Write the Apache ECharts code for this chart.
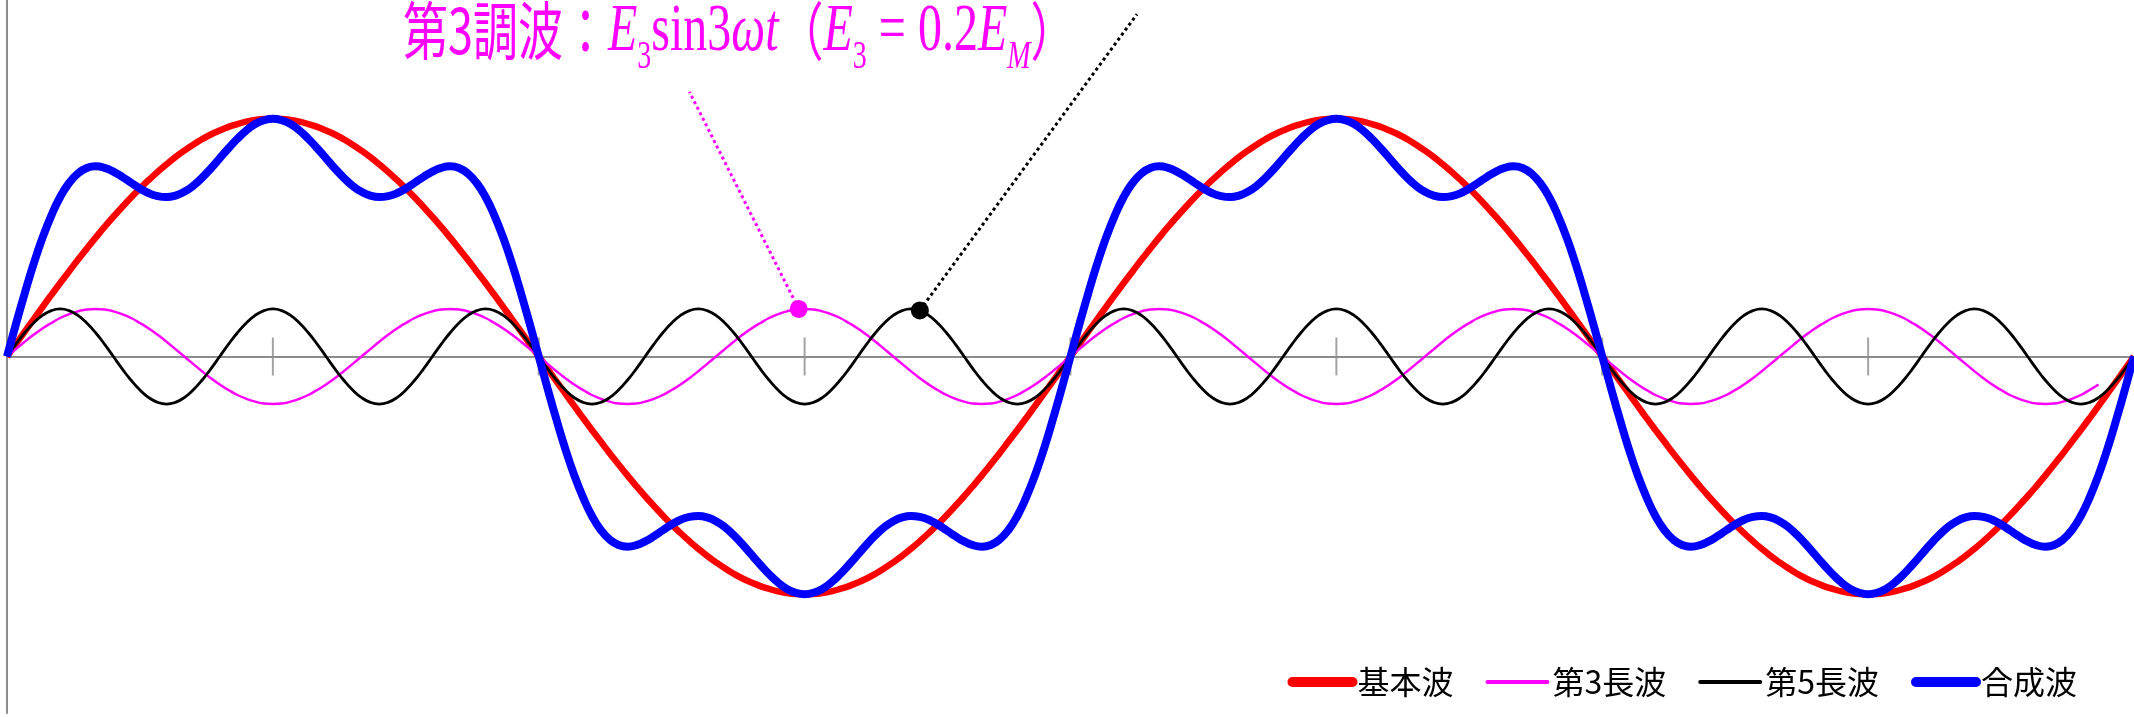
<!DOCTYPE html>
<html>
<head>
<meta charset="utf-8">
<title>合成波</title>
<script src="https://cdn.jsdelivr.net/npm/echarts@6/dist/echarts.min.js"></script>
<style>
  html, body { margin: 0; padding: 0; background: #ffffff; }
  #chart { width: 2134px; height: 717px; }
</style>
</head>
<body>
<div id="chart"></div>
<script>
// Phase angle (degrees) of each sample: 0°, 3°, 6°, ... 720°
const stepDeg = 3;

// 基本波 (amplitude 1)
const fundamental = [
  0, 0.052, 0.105, 0.156, 0.208, 0.259, 0.309, 0.358, 0.407, 0.454,
  0.5, 0.545, 0.588, 0.629, 0.669, 0.707, 0.743, 0.777, 0.809, 0.839,
  0.866, 0.891, 0.914, 0.934, 0.951, 0.966, 0.978, 0.988, 0.995, 0.999,
  1, 0.999, 0.995, 0.988, 0.978, 0.966, 0.951, 0.934, 0.914, 0.891,
  0.866, 0.839, 0.809, 0.777, 0.743, 0.707, 0.669, 0.629, 0.588, 0.545,
  0.5, 0.454, 0.407, 0.358, 0.309, 0.259, 0.208, 0.156, 0.105, 0.052,
  0, -0.052, -0.105, -0.156, -0.208, -0.259, -0.309, -0.358, -0.407, -0.454,
  -0.5, -0.545, -0.588, -0.629, -0.669, -0.707, -0.743, -0.777, -0.809, -0.839,
  -0.866, -0.891, -0.914, -0.934, -0.951, -0.966, -0.978, -0.988, -0.995, -0.999,
  -1, -0.999, -0.995, -0.988, -0.978, -0.966, -0.951, -0.934, -0.914, -0.891,
  -0.866, -0.839, -0.809, -0.777, -0.743, -0.707, -0.669, -0.629, -0.588, -0.545,
  -0.5, -0.454, -0.407, -0.358, -0.309, -0.259, -0.208, -0.156, -0.105, -0.052,
  0, 0.052, 0.105, 0.156, 0.208, 0.259, 0.309, 0.358, 0.407, 0.454,
  0.5, 0.545, 0.588, 0.629, 0.669, 0.707, 0.743, 0.777, 0.809, 0.839,
  0.866, 0.891, 0.914, 0.934, 0.951, 0.966, 0.978, 0.988, 0.995, 0.999,
  1, 0.999, 0.995, 0.988, 0.978, 0.966, 0.951, 0.934, 0.914, 0.891,
  0.866, 0.839, 0.809, 0.777, 0.743, 0.707, 0.669, 0.629, 0.588, 0.545,
  0.5, 0.454, 0.407, 0.358, 0.309, 0.259, 0.208, 0.156, 0.105, 0.052,
  0, -0.052, -0.105, -0.156, -0.208, -0.259, -0.309, -0.358, -0.407, -0.454,
  -0.5, -0.545, -0.588, -0.629, -0.669, -0.707, -0.743, -0.777, -0.809, -0.839,
  -0.866, -0.891, -0.914, -0.934, -0.951, -0.966, -0.978, -0.988, -0.995, -0.999,
  -1, -0.999, -0.995, -0.988, -0.978, -0.966, -0.951, -0.934, -0.914, -0.891,
  -0.866, -0.839, -0.809, -0.777, -0.743, -0.707, -0.669, -0.629, -0.588, -0.545,
  -0.5, -0.454, -0.407, -0.358, -0.309, -0.259, -0.208, -0.156, -0.105, -0.052,
  0
];

// 第3長波 (amplitude 0.2), drawn up to 708°
const third = [
  0, 0.031, 0.062, 0.091, 0.118, 0.141, 0.162, 0.178, 0.19, 0.198, 0.2, 0.198, 0.19, 0.178, 0.162, 0.141, 0.118, 0.091, 0.062, 0.031,
  0, -0.031, -0.062, -0.091, -0.118, -0.141, -0.162, -0.178, -0.19, -0.198, -0.2, -0.198, -0.19, -0.178, -0.162, -0.141, -0.118, -0.091, -0.062, -0.031,
  0, 0.031, 0.062, 0.091, 0.118, 0.141, 0.162, 0.178, 0.19, 0.198, 0.2, 0.198, 0.19, 0.178, 0.162, 0.141, 0.118, 0.091, 0.062, 0.031,
  0, -0.031, -0.062, -0.091, -0.118, -0.141, -0.162, -0.178, -0.19, -0.198, -0.2, -0.198, -0.19, -0.178, -0.162, -0.141, -0.118, -0.091, -0.062, -0.031,
  0, 0.031, 0.062, 0.091, 0.118, 0.141, 0.162, 0.178, 0.19, 0.198, 0.2, 0.198, 0.19, 0.178, 0.162, 0.141, 0.118, 0.091, 0.062, 0.031,
  0, -0.031, -0.062, -0.091, -0.118, -0.141, -0.162, -0.178, -0.19, -0.198, -0.2, -0.198, -0.19, -0.178, -0.162, -0.141, -0.118, -0.091, -0.062, -0.031,
  0, 0.031, 0.062, 0.091, 0.118, 0.141, 0.162, 0.178, 0.19, 0.198, 0.2, 0.198, 0.19, 0.178, 0.162, 0.141, 0.118, 0.091, 0.062, 0.031,
  0, -0.031, -0.062, -0.091, -0.118, -0.141, -0.162, -0.178, -0.19, -0.198, -0.2, -0.198, -0.19, -0.178, -0.162, -0.141, -0.118, -0.091, -0.062, -0.031,
  0, 0.031, 0.062, 0.091, 0.118, 0.141, 0.162, 0.178, 0.19, 0.198, 0.2, 0.198, 0.19, 0.178, 0.162, 0.141, 0.118, 0.091, 0.062, 0.031,
  0, -0.031, -0.062, -0.091, -0.118, -0.141, -0.162, -0.178, -0.19, -0.198, -0.2, -0.198, -0.19, -0.178, -0.162, -0.141, -0.118, -0.091, -0.062, -0.031,
  0, 0.031, 0.062, 0.091, 0.118, 0.141, 0.162, 0.178, 0.19, 0.198, 0.2, 0.198, 0.19, 0.178, 0.162, 0.141, 0.118, 0.091, 0.062, 0.031,
  0, -0.031, -0.062, -0.091, -0.118, -0.141, -0.162, -0.178, -0.19, -0.198, -0.2, -0.198, -0.19, -0.178, -0.162, -0.141, -0.118
];

// 第5長波 (amplitude 0.2)
const fifth = [
  0, 0.052, 0.1, 0.141, 0.173, 0.193, 0.2, 0.193, 0.173, 0.141, 0.1, 0.052, 0, -0.052, -0.1, -0.141, -0.173, -0.193, -0.2, -0.193, -0.173, -0.141, -0.1, -0.052,
  0, 0.052, 0.1, 0.141, 0.173, 0.193, 0.2, 0.193, 0.173, 0.141, 0.1, 0.052, 0, -0.052, -0.1, -0.141, -0.173, -0.193, -0.2, -0.193, -0.173, -0.141, -0.1, -0.052,
  0, 0.052, 0.1, 0.141, 0.173, 0.193, 0.2, 0.193, 0.173, 0.141, 0.1, 0.052, 0, -0.052, -0.1, -0.141, -0.173, -0.193, -0.2, -0.193, -0.173, -0.141, -0.1, -0.052,
  0, 0.052, 0.1, 0.141, 0.173, 0.193, 0.2, 0.193, 0.173, 0.141, 0.1, 0.052, 0, -0.052, -0.1, -0.141, -0.173, -0.193, -0.2, -0.193, -0.173, -0.141, -0.1, -0.052,
  0, 0.052, 0.1, 0.141, 0.173, 0.193, 0.2, 0.193, 0.173, 0.141, 0.1, 0.052, 0, -0.052, -0.1, -0.141, -0.173, -0.193, -0.2, -0.193, -0.173, -0.141, -0.1, -0.052,
  0, 0.052, 0.1, 0.141, 0.173, 0.193, 0.2, 0.193, 0.173, 0.141, 0.1, 0.052, 0, -0.052, -0.1, -0.141, -0.173, -0.193, -0.2, -0.193, -0.173, -0.141, -0.1, -0.052,
  0, 0.052, 0.1, 0.141, 0.173, 0.193, 0.2, 0.193, 0.173, 0.141, 0.1, 0.052, 0, -0.052, -0.1, -0.141, -0.173, -0.193, -0.2, -0.193, -0.173, -0.141, -0.1, -0.052,
  0, 0.052, 0.1, 0.141, 0.173, 0.193, 0.2, 0.193, 0.173, 0.141, 0.1, 0.052, 0, -0.052, -0.1, -0.141, -0.173, -0.193, -0.2, -0.193, -0.173, -0.141, -0.1, -0.052,
  0, 0.052, 0.1, 0.141, 0.173, 0.193, 0.2, 0.193, 0.173, 0.141, 0.1, 0.052, 0, -0.052, -0.1, -0.141, -0.173, -0.193, -0.2, -0.193, -0.173, -0.141, -0.1, -0.052,
  0, 0.052, 0.1, 0.141, 0.173, 0.193, 0.2, 0.193, 0.173, 0.141, 0.1, 0.052, 0, -0.052, -0.1, -0.141, -0.173, -0.193, -0.2, -0.193, -0.173, -0.141, -0.1, -0.052,
  0
];

// 合成波
const composite = [
  0, 0.135, 0.266, 0.389, 0.499, 0.593, 0.671, 0.73, 0.77, 0.793,
  0.8, 0.794, 0.778, 0.756, 0.731, 0.707, 0.687, 0.675, 0.671, 0.677,
  0.693, 0.718, 0.752, 0.791, 0.834, 0.876, 0.916, 0.951, 0.978, 0.994,
  1, 0.994, 0.978, 0.951, 0.916, 0.876, 0.834, 0.791, 0.752, 0.718,
  0.693, 0.677, 0.671, 0.675, 0.687, 0.707, 0.731, 0.756, 0.778, 0.794,
  0.8, 0.793, 0.77, 0.73, 0.671, 0.593, 0.499, 0.389, 0.266, 0.135,
  0, -0.135, -0.266, -0.389, -0.499, -0.593, -0.671, -0.73, -0.77, -0.793,
  -0.8, -0.794, -0.778, -0.756, -0.731, -0.707, -0.687, -0.675, -0.671, -0.677,
  -0.693, -0.718, -0.752, -0.791, -0.834, -0.876, -0.916, -0.951, -0.978, -0.994,
  -1, -0.994, -0.978, -0.951, -0.916, -0.876, -0.834, -0.791, -0.752, -0.718,
  -0.693, -0.677, -0.671, -0.675, -0.687, -0.707, -0.731, -0.756, -0.778, -0.794,
  -0.8, -0.793, -0.77, -0.73, -0.671, -0.593, -0.499, -0.389, -0.266, -0.135,
  0, 0.135, 0.266, 0.389, 0.499, 0.593, 0.671, 0.73, 0.77, 0.793,
  0.8, 0.794, 0.778, 0.756, 0.731, 0.707, 0.687, 0.675, 0.671, 0.677,
  0.693, 0.718, 0.752, 0.791, 0.834, 0.876, 0.916, 0.951, 0.978, 0.994,
  1, 0.994, 0.978, 0.951, 0.916, 0.876, 0.834, 0.791, 0.752, 0.718,
  0.693, 0.677, 0.671, 0.675, 0.687, 0.707, 0.731, 0.756, 0.778, 0.794,
  0.8, 0.793, 0.77, 0.73, 0.671, 0.593, 0.499, 0.389, 0.266, 0.135,
  0, -0.135, -0.266, -0.389, -0.499, -0.593, -0.671, -0.73, -0.77, -0.793,
  -0.8, -0.794, -0.778, -0.756, -0.731, -0.707, -0.687, -0.675, -0.671, -0.677,
  -0.693, -0.718, -0.752, -0.791, -0.834, -0.876, -0.916, -0.951, -0.978, -0.994,
  -1, -0.994, -0.978, -0.951, -0.916, -0.876, -0.834, -0.791, -0.752, -0.718,
  -0.693, -0.677, -0.671, -0.675, -0.687, -0.707, -0.731, -0.756, -0.778, -0.794,
  -0.8, -0.793, -0.77, -0.73, -0.671, -0.593, -0.499, -0.389, -0.266, -0.135,
  0
];

const seriesNames = ['基本波', '第3長波', '第5長波', '合成波'];

// Tick marks on the 0 line, every 90°
const tickDegrees = [90, 180, 270, 360, 450, 540, 630];

// Callout points [deg, value] and the far ends of their dotted leaders
const thirdMarker = [268, 0.2];
const thirdLeaderEnd = [231, 1.114];
const fifthMarker = [309, 0.194];
const fifthLeaderEnd = [382.5, 1.44];

const MAGENTA = '#ff00ff';
const CJK = '"Noto Sans CJK JP", "Noto Sans CJK SC", sans-serif';
const MATH = '"Liberation Serif", "DejaVu Serif", serif';

function toPairs(values) {
  return values.map((v, i) => [i * stepDeg, v]);
}

const chart = echarts.init(document.getElementById('chart'), null, { renderer: 'canvas' });

const lineBase = {
  type: 'line',
  smooth: true,
  symbol: 'none',
  showSymbol: false,
  silent: true,
  animation: false
};

// Legend entries show only the line (the marker dot is hidden)
function legendEntry(name, width) {
  return { name: name, lineStyle: { width: width, cap: 'round' }, itemStyle: { opacity: 0 } };
}

chart.setOption({
  backgroundColor: '#ffffff',
  animation: false,
  grid: { left: 7, top: 0, width: 2130, height: 713, containLabel: false },
  xAxis: {
    type: 'value',
    min: 0,
    max: 720,
    axisLine: { show: true, onZero: true, lineStyle: { color: '#8c8c8c', width: 2 } },
    axisTick: { show: false },
    axisLabel: { show: false },
    splitLine: { show: false }
  },
  yAxis: {
    type: 'value',
    min: -1.5,
    max: 1.5,
    axisLine: { show: true, onZero: false, lineStyle: { color: '#8c8c8c', width: 2 } },
    axisTick: { show: false },
    axisLabel: { show: false },
    splitLine: { show: false }
  },
  legend: {
    right: 52,
    top: 661,
    itemWidth: 60,
    itemHeight: 14,
    itemGap: 32,
    selectedMode: false,
    itemStyle: { opacity: 0 },
    textStyle: { fontFamily: CJK, fontSize: 32, color: '#000000' },
    data: [
      legendEntry(seriesNames[0], 10),
      legendEntry(seriesNames[1], 4),
      legendEntry(seriesNames[2], 4),
      legendEntry(seriesNames[3], 10)
    ]
  },
  series: [
    {
      type: 'scatter',
      name: 'ticks',
      symbol: 'rect',
      symbolSize: [2, 38],
      silent: true,
      z: 1,
      itemStyle: { color: '#8c8c8c' },
      data: tickDegrees.map(d => [d, 0])
    },
    Object.assign({}, lineBase, {
      name: seriesNames[0],
      z: 2,
      color: '#ff0000',
      lineStyle: { color: '#ff0000', width: 6.5 },
      data: toPairs(fundamental)
    }),
    Object.assign({}, lineBase, {
      name: seriesNames[1],
      z: 3,
      color: MAGENTA,
      lineStyle: { color: MAGENTA, width: 2.5 },
      data: toPairs(third),
      markLine: {
        silent: true,
        symbol: ['none', 'none'],
        label: { show: false },
        lineStyle: { color: MAGENTA, width: 3, type: [3, 3.2] },
        data: [[{ coord: thirdMarker }, { coord: thirdLeaderEnd }]]
      },
      markPoint: {
        silent: true,
        symbol: 'circle',
        symbolSize: 18,
        label: { show: false },
        itemStyle: { color: MAGENTA },
        data: [{ coord: thirdMarker }]
      }
    }),
    Object.assign({}, lineBase, {
      name: seriesNames[2],
      z: 4,
      color: '#000000',
      lineStyle: { color: '#000000', width: 2.8 },
      data: toPairs(fifth),
      markLine: {
        silent: true,
        symbol: ['none', 'none'],
        label: { show: false },
        lineStyle: { color: '#000000', width: 3, type: [3, 3.2] },
        data: [[{ coord: fifthMarker }, { coord: fifthLeaderEnd }]]
      },
      markPoint: {
        silent: true,
        symbol: 'circle',
        symbolSize: 18,
        label: { show: false },
        itemStyle: { color: '#000000' },
        data: [{ coord: fifthMarker }]
      }
    }),
    Object.assign({}, lineBase, {
      name: seriesNames[3],
      z: 5,
      color: '#0000ff',
      lineStyle: { color: '#0000ff', width: 8 },
      data: toPairs(composite)
    })
  ],
  graphic: [
    {
      type: 'text',
      x: 403,
      y: -1,
      scaleY: 1.4,
      silent: true,
      style: {
        text: '{j|第3調波：}{i|E}{s|3}{r|sin3}{i|ωt}{j|（}{i|E}{s|3}{r| = 0.2}{i|E}{si|M}{j|）}',
        fill: MAGENTA,
        verticalAlign: 'top',
        rich: {
          j: { fontFamily: CJK, fontSize: 45, lineHeight: 48, verticalAlign: 'top', fill: MAGENTA },
          i: { fontFamily: MATH, fontStyle: 'italic', fontSize: 48, lineHeight: 48, verticalAlign: 'top', fill: MAGENTA },
          r: { fontFamily: MATH, fontSize: 48, lineHeight: 48, verticalAlign: 'top', fill: MAGENTA },
          s: { fontFamily: MATH, fontSize: 28, lineHeight: 28, verticalAlign: 'top', padding: [28, 0, 0, 0], fill: MAGENTA },
          si: { fontFamily: MATH, fontStyle: 'italic', fontSize: 28, lineHeight: 28, verticalAlign: 'top', padding: [28, 0, 0, 0], fill: MAGENTA }
        }
      }
    }
  ]
});
</script>
</body>
</html>
